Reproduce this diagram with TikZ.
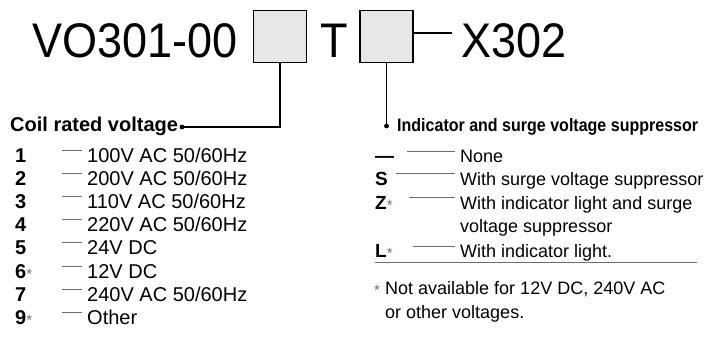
\documentclass[tikz,border=0pt]{standalone}
\usepackage{fontspec}
\setmainfont{Liberation Sans}
\definecolor{boxgray}{HTML}{E6E7E8}
\definecolor{inkgray}{HTML}{6D6E71}
\newcommand{\smallstar}{{\color{inkgray}\mdseries\fontsize{15}{15}\selectfont\raisebox{-1pt}{*}}}
\begin{document}
\begin{tikzpicture}[x=1pt,y=-1pt,
  codebox/.style={draw=black, line width=1.8pt, fill=boxgray, minimum width=53pt, minimum height=52pt, inner sep=0pt},
  conn/.style={line width=1.8pt},
  tickline/.style={draw=inkgray, line width=0.8pt},
  sepline/.style={draw=inkgray, line width=1.2pt},
  titletext/.style={anchor=base west, inner sep=0pt, font=\fontsize{45}{45}\selectfont},
  headtext/.style={anchor=base west, inner sep=0pt, font=\fontsize{20}{20}\selectfont\bfseries},
  keytext/.style={anchor=base west, inner sep=0pt, font=\fontsize{20}{20}\selectfont\bfseries},
  ltext/.style={anchor=base west, inner sep=0pt, font=\fontsize{20}{20}\selectfont},
  rtext/.style={anchor=base west, inner sep=0pt, font=\fontsize{18}{18}\selectfont},
  rkey/.style={anchor=base west, inner sep=0pt, font=\fontsize{19}{19}\selectfont\bfseries}]
\useasboundingbox (0,0) rectangle (708,338);
% title line
\node[titletext] (t1) at (32,57) {\scalebox{1}[1.08]{VO301-00}};
\node[codebox] (b1) at (280,36.5) {};
\node[titletext] (tT) at (320,57) {\scalebox{1}[1.08]{T}};
\node[codebox] (b2) at (386.5,36.5) {};
\coordinate (xend) at (452,33);
\draw[conn] (b2.east |- xend) -- (xend);
\node[titletext] (tX) at (461,57) {\scalebox{1}[1.08]{X302}};
% left connector
\coordinate (cdot) at (182,127);
\draw[conn] (b1.south) |- (cdot);
\fill (cdot) circle (2.4);
\node[headtext] (coil) at (10,131) {Coil rated voltage};
% right connector
\coordinate (idot) at (b2.south |- 0,126);
\draw[conn] (b2.south) -- (idot);
\fill (idot) circle (2.4);
\node[headtext, font=\fontsize{18}{18}\selectfont\bfseries] (ind) at (397,131) {\scalebox{0.89}[1]{Indicator and surge voltage suppressor}};
% left list
\foreach \k/\lab/\st [count=\i from 0] in {1/100V AC 50\slash 60Hz/0, 2/200V AC 50\slash 60Hz/0, 3/110V AC 50\slash 60Hz/0, 4/220V AC 50\slash 60Hz/0, 5/24V DC/0, 6/12V DC/1, 7/240V AC 50\slash 60Hz/0, 9/Other/1}{
  \pgfmathsetmacro{\yy}{162+23.2*\i}
  \node[keytext] (lk\i) at (15,\yy) {\k\ifnum\st=1\smallstar\fi};
  \node[ltext] (lt\i) at (87,\yy) {\lab};
  \coordinate (la\i) at (62,\yy-12);
  \coordinate (lb\i) at (82,\yy-12);
  \draw[tickline] (la\i) -- (lb\i);
}
% right list
\node[rkey] (rk0) at (375,162) {—};
\node[rkey] (rk1) at (375,185) {S};
\node[rkey] (rk2) at (375,209) {Z\smallstar};
\node[rkey] (rk3) at (375,257) {L\smallstar};
\node[rtext] (rt0) at (460,162) {None};
\node[rtext] (rt1) at (460,185) {With surge voltage suppressor};
\node[rtext] (rt2) at (460,209) {With indicator light and surge};
\node[rtext] (rt2b) at (460,232.5) {voltage suppressor};
\node[rtext] (rt3) at (460,257) {With indicator light.};
\coordinate (ra0) at (407,151);
\coordinate (ra1) at (396,173);
\coordinate (ra2) at (409,197);
\coordinate (ra3) at (413,246);
\draw[tickline] (ra0) -- (455,151);
\draw[tickline] (ra1) -- (455,173);
\draw[tickline] (ra2) -- (455,197);
\draw[tickline] (ra3) -- (455,246);
\coordinate (sepa) at (375,262.5);
\coordinate (sepb) at (697,262.5);
\draw[sepline] (sepa) -- (sepb);
\node[rtext] (fs) at (374,294) {\smallstar};
\node[rtext] (fn1) at (385,294) {Not available for 12V DC, 240V AC};
\node[rtext] (fn2) at (385,318) {or other voltages.};
\end{tikzpicture}
\end{document}
